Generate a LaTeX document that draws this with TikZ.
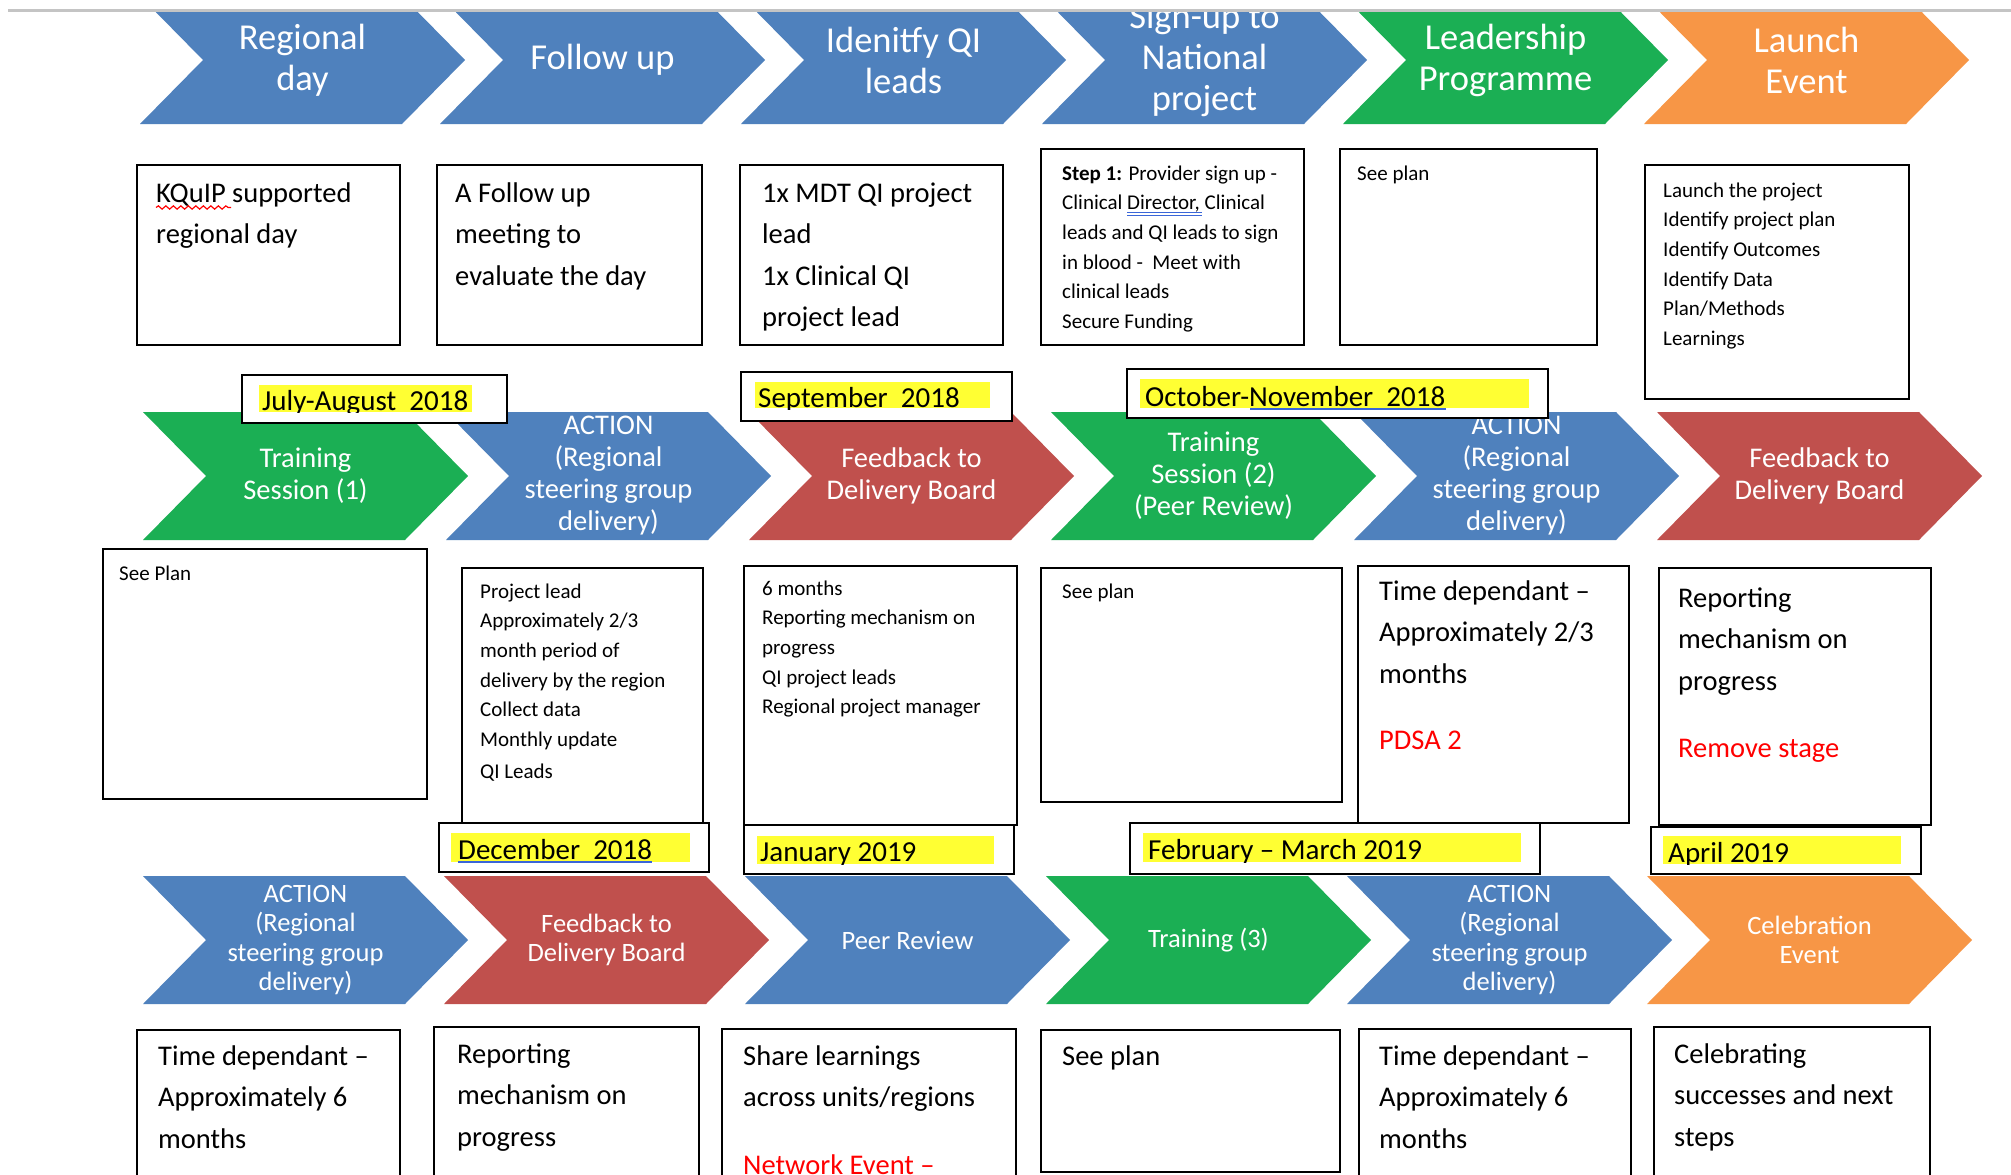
\documentclass[tikz,border=0pt]{standalone}
\usepackage{fontspec}
\setmainfont{Carlito}
\usetikzlibrary{decorations.pathmorphing}
\definecolor{cblue}{HTML}{4F81BD}
\definecolor{cgreen}{HTML}{1BAF54}
\definecolor{cred}{HTML}{C0504D}
\definecolor{corange}{HTML}{F79646}
\definecolor{hlyellow}{HTML}{FFFF33}
\definecolor{redtxt}{HTML}{FF0000}
\definecolor{spellblue}{HTML}{3A66D8}
\definecolor{rulegrey}{HTML}{C4C4C4}
\newcommand\tb{\rule{0pt}{25pt}}
\newcommand\tsm{\rule{0pt}{19pt}}
\tikzset{
  chevtxt/.style={text=white, align=center, inner sep=0pt, anchor=center},
  chevA/.style={chevtxt, font=\fontsize{36.5}{41}\selectfont},
  chevB/.style={chevtxt, font=\fontsize{28.5}{32}\selectfont},
  chevC/.style={chevtxt, font=\fontsize{26.5}{29.5}\selectfont},
  infobox/.style={draw=black, line width=2.2pt, fill=white},
  datebox/.style={draw=black, line width=2.7pt, fill=white},
  hl/.style={fill=hlyellow},
  bigtxt/.style={anchor=north west, yshift=25pt, inner sep=0pt, align=left, font=\fontsize{28.5}{41.5}\selectfont},
  smalltxt/.style={anchor=north west, yshift=19pt, inner sep=0pt, align=left, font=\fontsize{21}{29.6}\selectfont},
  datetxt/.style={anchor=base west, inner sep=0pt, font=\fontsize{29}{34}\selectfont},
}
\newcommand\chev[6]{%
  \fill[#3] (#1,#2-64) -- ++(262,0) -- ++(63,64) -- ++(-63,64) -- ++(-262,0) -- ++(63,-64) -- cycle;
  \node[#4] (#5) at (#1+162.5,#2) {#6};
}
\begin{document}
\begin{tikzpicture}[x=1pt,y=-1pt]
\clip (0,0) rectangle (2011,1175);
\fill[white] (0,0) rectangle (2011,1175);

% ---------- row 1 chevrons ----------
\begin{scope}
\clip (0,11.5) rectangle (2011,200);
\chev{140}{60}{cblue}{chevA}{c11}{Regional\\day}
\chev{440}{60}{cblue}{chevA}{c12}{Follow up}
\chev{741}{60}{cblue}{chevA}{c13}{Idenitfy QI\\leads}
\chev{1042}{60}{cblue}{chevA}{c14}{Sign-up to\\National\\project}
\chev{1343}{60}{cgreen}{chevA}{c15}{Leadership\\Programme}
\chev{1644}{60}{corange}{chevA}{c16}{Launch\\Event}
\end{scope}
\draw[rulegrey, line width=3pt] (8,10) -- (2011,10);

% ---------- row 2 chevrons ----------
\chev{143}{476}{cgreen}{chevB}{c21}{Training\\Session (1)}
\chev{446}{476}{cblue}{chevB}{c22}{ACTION\\(Regional\\steering group\\delivery)}
\chev{749}{476}{cred}{chevB}{c23}{Feedback to\\Delivery Board}
\chev{1051}{476}{cgreen}{chevB}{c24}{Training\\Session (2)\\(Peer Review)}
\chev{1354}{476}{cblue}{chevB}{c25}{ACTION\\(Regional\\steering group\\delivery)}
\chev{1657}{476}{cred}{chevB}{c26}{Feedback to\\Delivery Board}

% ---------- row 3 chevrons ----------
\chev{143}{940}{cblue}{chevC}{c31}{ACTION\\(Regional\\steering group\\delivery)}
\chev{444}{940}{cred}{chevC}{c32}{Feedback to\\Delivery Board}
\chev{745}{940}{cblue}{chevC}{c33}{Peer Review}
\chev{1046}{940}{cgreen}{chevC}{c34}{Training (3)}
\chev{1347}{940}{cblue}{chevC}{c35}{ACTION\\(Regional\\steering group\\delivery)}
\chev{1647}{940}{corange}{chevC}{c36}{Celebration\\Event}

% ---------- row 1 boxes ----------
\draw[infobox] (137,165) rectangle (400,345);
\node[bigtxt] (b11) at (156,202) {\tb KQuIP supported\\regional day};
\draw[redtxt, line width=1.2pt, decorate, decoration={snake, amplitude=1.6pt, segment length=7.5pt}] (156,207.5) -- (231,207.5);
\draw[infobox] (437,165) rectangle (702,345);
\node[bigtxt] (b12) at (455,202) {\tb A Follow up\\meeting to\\evaluate the day};
\draw[infobox] (740,165) rectangle (1003,345);
\node[bigtxt] (b13) at (762,202) {\tb 1x MDT QI project\\lead\\1x Clinical QI\\project lead};
\draw[infobox] (1041,149) rectangle (1304,345);
\node[smalltxt] (b14) at (1062,180) {\tsm\textbf{Step 1:} Provider sign up -\\Clinical Director, Clinical\\leads and QI leads to sign\\in blood -\ \ Meet with\\clinical leads\\Secure Funding};
\draw[spellblue, line width=1.1pt] (1127,212.5) -- (1202,212.5) (1127,215.5) -- (1202,215.5);
\draw[infobox] (1340,149) rectangle (1597,345);
\node[smalltxt] (b15) at (1357,180) {\tsm See plan};
\draw[infobox] (1645,165) rectangle (1909,399);
\node[smalltxt] (b16) at (1663,197) {\tsm Launch the project\\Identify project plan\\Identify Outcomes\\Identify Data\\Plan/Methods\\Learnings};

% ---------- row 2 boxes ----------
\draw[infobox] (103,549) rectangle (427,799);
\node[smalltxt] (b21) at (119,580) {\tsm See Plan};
\draw[infobox] (462,568) rectangle (703,823);
\node[smalltxt] (b22) at (480,598) {\tsm Project lead\\Approximately 2/3\\month period of\\delivery by the region\\Collect data\\Monthly update\\[3pt]QI Leads};
\draw[infobox] (744,566) rectangle (1017,825);
\node[smalltxt] (b23) at (762,595) {\tsm 6 months\\Reporting mechanism on\\progress\\QI project leads\\Regional project manager};
\draw[infobox] (1041,568) rectangle (1342,802);
\node[smalltxt] (b24) at (1062,598) {\tsm See plan};
\draw[infobox] (1358,566) rectangle (1629,823);
\node[bigtxt] (b25) at (1379,600) {\tb Time dependant –\\Approximately 2/3\\months\\[25pt]\textcolor{redtxt}{PDSA 2}};
\draw[infobox] (1659,568) rectangle (1931,825);
\node[bigtxt] (b26) at (1678,607) {\tb Reporting\\mechanism on\\progress\\[26pt]\textcolor{redtxt}{Remove stage}};

% ---------- row 3 boxes ----------
\draw[infobox] (137,1030) rectangle (400,1190);
\node[bigtxt] (b31) at (158,1065) {\tb Time dependant –\\Approximately 6\\months};
\draw[infobox] (434,1027) rectangle (699,1190);
\node[bigtxt] (b32) at (457,1063) {\tb Reporting\\mechanism on\\progress};
\draw[infobox] (722,1029) rectangle (1016,1190);
\node[bigtxt] (b33) at (743,1065) {\tb Share learnings\\across units/regions\\[26pt]\textcolor{redtxt}{Network Event –}};
\draw[infobox] (1041,1030) rectangle (1340,1172);
\node[bigtxt] (b34) at (1062,1065) {\tb See plan};
\draw[infobox] (1359,1029) rectangle (1631,1190);
\node[bigtxt] (b35) at (1379,1065) {\tb Time dependant –\\Approximately 6\\months};
\draw[infobox] (1654,1027) rectangle (1930,1190);
\node[bigtxt] (b36) at (1674,1063) {\tb Celebrating\\successes and next\\steps};

% ---------- date boxes ----------
\draw[datebox] (242,375) rectangle (507,423);
\fill[hl] (259,385) rectangle (472,412);
\begin{scope}\clip (242,375) rectangle (507,412.5);
\node[datetxt] (d1) at (262,410) {July-August\ \ 2018};
\end{scope}

\draw[datebox] (741,372) rectangle (1012,421);
\fill[hl] (755,382) rectangle (990,408);
\begin{scope}\clip (741,372) rectangle (1012,409);
\node[datetxt] (d2) at (758,407) {September\ \ 2018};
\end{scope}

\draw[datebox] (1127,369) rectangle (1548,418);
\fill[hl] (1140,379) rectangle (1529,408);
\begin{scope}\clip (1127,369) rectangle (1548,409);
\node[datetxt] (d3) at (1145,406) {October-November\ \ 2018};
\end{scope}
\draw[spellblue, line width=1.6pt] (1250,409) -- (1446,409);

\draw[datebox] (439,823) rectangle (709,872);
\fill[hl] (451,833) rectangle (690,862);
\begin{scope}\clip (439,823) rectangle (709,863);
\node[datetxt] (d4) at (458,859) {December\ \ 2018};
\end{scope}
\draw[spellblue, line width=1.6pt] (458,862) -- (652,862);

\draw[datebox] (744,825) rectangle (1014,874);
\fill[hl] (757,836) rectangle (994,864);
\begin{scope}\clip (744,825) rectangle (1014,864.5);
\node[datetxt] (d5) at (760,861) {January 2019};
\end{scope}

\draw[datebox] (1130,823) rectangle (1540,874);
\fill[hl] (1143,833) rectangle (1521,862);
\begin{scope}\clip (1130,823) rectangle (1540,862.5);
\node[datetxt] (d6) at (1148,859) {February – March 2019};
\end{scope}

\draw[datebox] (1651,827) rectangle (1921,874);
\fill[hl] (1663,836) rectangle (1901,864);
\begin{scope}\clip (1651,827) rectangle (1921,864.5);
\node[datetxt] (d7) at (1668,862) {April 2019};
\end{scope}
\end{tikzpicture}
\end{document}
